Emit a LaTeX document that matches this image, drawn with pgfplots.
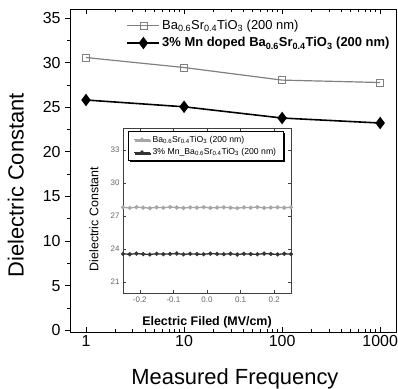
\documentclass[border=0pt]{standalone}
\usepackage{fontspec}
\setmainfont{Liberation Sans}
\usepackage{pgfplots}
\pgfplotsset{compat=1.18}
\usetikzlibrary{shadows}

\newcommand{\bst}{Ba\textsubscript{0.6}Sr\textsubscript{0.4}TiO\textsubscript{3}}

\begin{document}
\begin{tikzpicture}
% frequency dependence of the dielectric constant
\begin{axis}[
  at={(70bp,57bp)}, anchor=south west,
  scale only axis, width=326bp, height=323bp,
  xmode=log, xmin=0.687, xmax=1450,
  ymin=-0.2, ymax=36,
  xtick={1,10,100,1000}, xticklabels={1,10,100,1000},
  ytick={0,5,...,35}, minor y tick num=1,
  ytick align=outside, ytick pos=left,
  axis line style={line width=0.8pt},
  tick style={black, line width=0.6pt},
  major tick length=5bp, minor tick length=3bp,
  /pgf/number format/assume math mode=true,
  tick label style={font=\fontsize{16}{18}\selectfont},
  yticklabel style={xshift=-1bp},
  xlabel={Measured Frequency}, ylabel={Dielectric Constant},
  label style={font=\fontsize{22}{26}\selectfont},
  x label style={at={(axis description cs:0.506,-0.145)}, anchor=center},
  y label style={at={(axis description cs:-0.166,0.455)}, anchor=center},
  legend cell align=left,
  legend style={at={(axis description cs:0.17,0.975)}, anchor=north west,
    draw=none, fill=none, font=\fontsize{13}{15}\selectfont,
    row sep=2.5pt, inner sep=1pt},
  legend image code/.code={\draw[mark repeat=2,mark phase=2,#1]
    plot coordinates {(0bp,0bp) (16bp,0bp) (32bp,0bp)};},
]
\addplot[gray, line width=1.2pt, mark=square, mark size=3.5pt,
  mark options={fill=white, line width=0.7pt, gray}]
  coordinates {(1,30.56) (10,29.44) (100,28.03) (1000,27.76)};
\addlegendentry{\bst{} (200 nm)}
\addplot[black, line width=1.6pt, mark=diamond*, mark size=5pt,
  mark options={solid}]
  coordinates {(1,25.80) (10,25.04) (100,23.78) (1000,23.22)};
\addlegendentry{\textbf{3\% Mn doped \bst{} (200 nm)}}
\end{axis}

% inset: field dependence
\begin{axis}[
  at={(123bp,96bp)}, anchor=south west,
  scale only axis, width=168bp, height=165bp,
  axis background/.style={fill=white},
  xmin=-0.25, xmax=0.25, ymin=20, ymax=35,
  xtick={-0.2,-0.1,0,0.1,0.2}, ytick={21,24,...,33},
  axis line style={black!75, line width=0.6pt},
  tick style={black!75, line width=0.5pt},
  major tick length=3bp,
  /pgf/number format/assume math mode=true,
  xticklabel style={/pgf/number format/.cd, fixed, fixed zerofill, precision=1},
  tick label style={font=\fontsize{8}{9}\selectfont, text=black!60},
  xlabel={\textbf{Electric Filed (MV/cm)}}, ylabel={Dielectric Constant},
  x label style={font=\fontsize{12.5}{14}\selectfont,
    at={(axis description cs:0.5,-0.175)}, anchor=center},
  y label style={font=\fontsize{12.5}{14}\selectfont,
    at={(axis description cs:-0.173,0.448)}, anchor=center},
  legend cell align=left,
  legend style={at={(axis description cs:0.03,0.982)}, anchor=north west,
    draw=black, line width=0.6pt, fill=white,
    drop shadow={shadow xshift=1.5pt, shadow yshift=-1.5pt, fill=black, opacity=1},
    font=\fontsize{8.7}{10}\selectfont, inner xsep=5pt, inner ysep=2.5pt,
    row sep=1pt},
  legend image code/.code={\draw[mark repeat=2,mark phase=2,#1]
    plot coordinates {(0bp,0bp) (8bp,0bp) (16bp,0bp)};},
]
\addplot[gray!70, line width=1.3pt, mark=o, mark size=1.4pt]
  coordinates {(-0.25,27.78) (-0.23,27.74) (-0.21,27.80) (-0.19,27.76)
  (-0.17,27.72) (-0.15,27.79) (-0.13,27.75) (-0.11,27.81) (-0.09,27.77)
  (-0.07,27.73) (-0.05,27.78) (-0.03,27.76) (-0.01,27.80) (0.01,27.74)
  (0.03,27.77) (0.05,27.79) (0.07,27.75) (0.09,27.72) (0.11,27.78)
  (0.13,27.76) (0.15,27.81) (0.17,27.74) (0.19,27.77) (0.21,27.79)
  (0.23,27.75) (0.25,27.78)};
\addlegendentry{\bst{} (200 nm)}
\addplot[black!80, line width=1.3pt, mark=o, mark size=1.4pt]
  coordinates {(-0.25,23.56) (-0.23,23.52) (-0.21,23.58) (-0.19,23.54)
  (-0.17,23.50) (-0.15,23.57) (-0.13,23.53) (-0.11,23.55) (-0.09,23.59)
  (-0.07,23.51) (-0.05,23.56) (-0.03,23.54) (-0.01,23.52) (0.01,23.58)
  (0.03,23.55) (0.05,23.53) (0.07,23.57) (0.09,23.50) (0.11,23.56)
  (0.13,23.54) (0.15,23.52) (0.17,23.58) (0.19,23.55) (0.21,23.51)
  (0.23,23.57) (0.25,23.53)};
\addlegendentry{3\% Mn\_\bst{} (200 nm)}
\end{axis}

\pgfresetboundingbox
\useasboundingbox (0,0) rectangle (398bp,389bp);
\end{tikzpicture}
\end{document}
